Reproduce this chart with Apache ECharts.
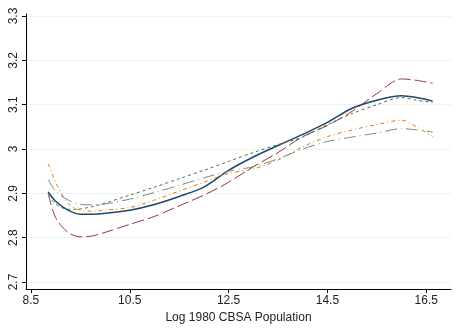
<!DOCTYPE html>
<html>
<head>
<meta charset="utf-8">
<script src="https://cdn.jsdelivr.net/npm/echarts@6/dist/echarts.min.js"></script>
<style>html,body{margin:0;padding:0;background:#fff}#c{width:456px;height:329px}</style>
</head>
<body>
<div id="c"></div>
<script>
const xVals = [8.85, 9.0, 9.25, 9.5, 9.75, 10.0, 10.5, 11.0, 11.5, 12.0, 12.5, 13.0, 13.5, 14.0, 14.5, 15.0, 15.5, 16.0, 16.3, 16.63];
const navy   = [2.903, 2.882, 2.862, 2.853, 2.853, 2.855, 2.862, 2.875, 2.893, 2.914, 2.952, 2.982, 3.008, 3.033, 3.060, 3.092, 3.110, 3.120, 3.116, 3.108];
const maroon = [2.900, 2.845, 2.812, 2.802, 2.804, 2.812, 2.830, 2.848, 2.872, 2.896, 2.925, 2.960, 2.992, 3.028, 3.053, 3.085, 3.125, 3.158, 3.155, 3.148];
const green  = [2.895, 2.876, 2.864, 2.865, 2.870, 2.878, 2.896, 2.914, 2.933, 2.952, 2.972, 2.992, 3.010, 3.027, 3.055, 3.080, 3.100, 3.116, 3.110, 3.105];
const orange = [2.967, 2.925, 2.877, 2.862, 2.860, 2.862, 2.868, 2.885, 2.905, 2.925, 2.945, 2.955, 2.975, 3.005, 3.028, 3.043, 3.055, 3.065, 3.050, 3.028];
const teal   = [2.931, 2.905, 2.885, 2.875, 2.874, 2.876, 2.887, 2.902, 2.918, 2.935, 2.950, 2.960, 2.978, 3.000, 3.017, 3.027, 3.036, 3.046, 3.043, 3.038];
const xTicks = [8.5, 10.5, 12.5, 14.5, 16.5];
const yTicks = [2.7, 2.8, 2.9, 3.0, 3.1, 3.2, 3.3];
const xTitle = 'Log 1980 CBSA Population';

const pairs = ys => xVals.map((x, i) => [x, ys[i]]);
const font = 'Liberation Sans, Arial, Helvetica, sans-serif';
const mk = (name, ys, color, type, width) => ({
  name, type: 'line', data: pairs(ys), showSymbol: false, smooth: 0.3,
  lineStyle: { color, width, type }, animation: false
});

const chart = echarts.init(document.getElementById('c'));
chart.setOption({
  animation: false,
  grid: { left: 26, right: 5, top: 14, bottom: 36 },
  xAxis: {
    type: 'value', min: 8.4, max: 17.0,
    name: xTitle, nameLocation: 'middle', nameGap: 17.5,
    nameTextStyle: { fontFamily: font, fontSize: 12, color: '#222' },
    axisLine: { lineStyle: { color: '#000', width: 1 } },
    axisTick: { length: 4, lineStyle: { color: '#000' }, customValues: xTicks },
    axisLabel: { customValues: xTicks, fontFamily: font, fontSize: 12, color: '#222', margin: 6,
      formatter: v => v.toFixed(1) },
    splitLine: { show: false }
  },
  yAxis: {
    type: 'value', min: 2.684, max: 3.3045,
    axisLine: { show: true, lineStyle: { color: '#000', width: 1 } },
    axisTick: { show: true, length: 4, lineStyle: { color: '#000' }, customValues: yTicks },
    axisLabel: { customValues: yTicks, rotate: 90, fontFamily: font, fontSize: 12, color: '#222', margin: 6,
      formatter: v => (Math.round(v * 10) / 10).toString() },
    splitLine: { show: true, lineStyle: { color: '#eaf2f3', width: 1 } }
  },
  series: [
    mk('navy', navy, '#1a476f', 'solid', 1.5),
    mk('maroon', maroon, '#90353b', [12, 4], 1),
    mk('green', green, '#55752f', [3, 3], 1),
    mk('orange', orange, '#e37e00', [4, 3, 1, 3], 1),
    mk('teal', teal, '#6e8e84', [12, 4, 1, 4], 1)
  ]
});
</script>
</body>
</html>
